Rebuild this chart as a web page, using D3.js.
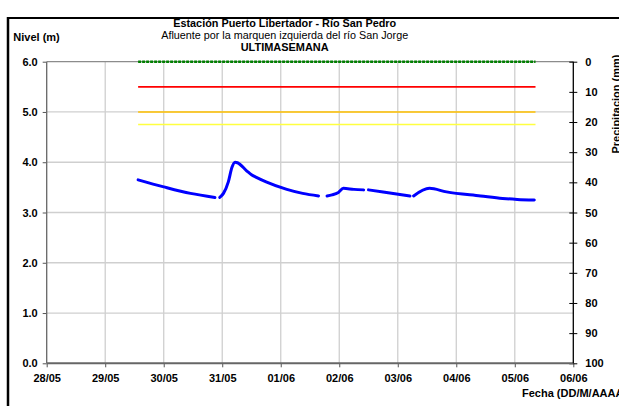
<!DOCTYPE html>
<html><head><meta charset="utf-8">
<script src="https://cdn.jsdelivr.net/npm/d3@7"></script>
<style>
html,body{margin:0;padding:0;background:#fff;}
svg{display:block;font-family:"Liberation Sans",Arial,sans-serif;}
</style></head>
<body>
<svg id="c" width="619" height="406"></svg>
<script>
// ---- data ----
const dayTicks = ["28/05","29/05","30/05","31/05","01/06","02/06","03/06","04/06","05/06","06/06"];
const levelTicks = [0,1,2,3,4,5,6];
const rainTicks = [0,10,20,30,40,50,60,70,80,90,100];
const times = ["29/05 13:30","30/05 00:00","30/05 11:00","30/05 21:00","30/05 22:00","30/05 23:00",
  "31/05 00:30","31/05 02:30","31/05 04:00","31/05 05:15","31/05 06:15","31/05 10:00","31/05 12:00",
  "31/05 14:00","31/05 18:00","01/06 02:30","01/06 09:00","01/06 15:30","01/06 17:00","01/06 19:00",
  "01/06 21:00","01/06 23:40","02/06 01:40","02/06 06:00","02/06 10:00","02/06 11:00","02/06 12:00",
  "02/06 18:00","03/06 05:00","03/06 06:00","03/06 06:30","03/06 13:00","03/06 20:00","04/06 10:00",
  "04/06 19:00","05/06 01:00","05/06 08:00"];
const levels = [3.65,3.51,3.38,3.30,null,3.30,
  3.38,3.61,3.90,4.00,3.99,3.83,3.75,
  3.70,3.61,3.46,3.38,3.33,null,3.33,
  3.35,3.40,3.48,3.46,3.45,null,3.45,
  3.41,3.33,null,3.33,3.48,3.41,3.33,
  3.28,3.26,3.25];
const thresholdNames = ["alerta0","roja","naranja","amarilla"];
const thresholdValues = [6.0,5.5,5.0,4.75];
const thresholdColors = ["#008000","#ff0000","#ffc000","#ffff40"];
const thresholdStart = "29/05 13:30";
const thresholdEnd = "05/06 08:30";

// ---- layout ----
const svg = d3.select("#c");
const L = 46.7, R = 573.3, T = 61.7, B = 363.3;
const parse = d3.timeParse("%d/%m %H:%M");
const dayDates = dayTicks.map(d => parse(d + " 00:00"));
const x = d3.scaleTime().domain([dayDates[0], dayDates[dayDates.length-1]]).range([L, R]);
const y = d3.scaleLinear().domain([0, 6]).range([B, T]);
const y2 = d3.scaleLinear().domain([0, 100]).range([T, B]);

// outer frame
svg.append("line").attr("x1",7).attr("x2",619).attr("y1",18).attr("y2",18).attr("stroke","#000").attr("stroke-width",2);
svg.append("line").attr("x1",8).attr("x2",8).attr("y1",17).attr("y2",406).attr("stroke","#000").attr("stroke-width",2.5);

// gridlines
const g = svg.append("g");
g.selectAll(".vg").data(dayDates.slice(1, -1)).join("line")
  .attr("x1", d => x(d)).attr("x2", d => x(d)).attr("y1", T).attr("y2", B)
  .attr("stroke", "#cfcfcf").attr("stroke-width", 1.3);
g.selectAll(".hg").data(levelTicks.filter(v => v > 0)).join("line")
  .attr("x1", L).attr("x2", R).attr("y1", d => y(d)).attr("y2", d => y(d))
  .attr("stroke", d => d === 6 ? "#8c8c8c" : "#cfcfcf").attr("stroke-width", d => d === 6 ? 1.3 : 1.3);

// threshold lines
thresholdValues.forEach((v, i) => {
  const ln = svg.append("line")
    .attr("x1", x(parse(thresholdStart))).attr("x2", x(parse(thresholdEnd)))
    .attr("y1", y(v)).attr("y2", y(v))
    .attr("stroke", thresholdColors[i]).attr("stroke-width", i === 0 ? 2.6 : 1.6)
    .attr("class", thresholdNames[i]);
  if (i === 0) ln.attr("stroke-dasharray", "3,1");
});

// level series
const pts = times.map((t, i) => ({t: parse(t), v: levels[i]}));
const line = d3.line().defined(d => d.v !== null).x(d => x(d.t)).y(d => y(d.v)).curve(d3.curveMonotoneX);
svg.append("path").datum(pts).attr("d", line).attr("fill", "none")
  .attr("stroke", "#0000ff").attr("stroke-width", 3).attr("stroke-linejoin", "round").attr("stroke-linecap", "round");

// axes
const fontTick = "bold 11px 'Liberation Sans', Arial, sans-serif";
const ax = svg.append("g").attr("transform", `translate(0,${B})`)
  .call(d3.axisBottom(x).tickValues(dayDates).tickFormat((d, i) => dayTicks[i]).tickSize(4).tickPadding(5));
const ay = svg.append("g").attr("transform", `translate(${L},0)`)
  .call(d3.axisLeft(y).tickValues(levelTicks).tickFormat(d3.format(".1f")).tickSize(4).tickPadding(5));
const ay2 = svg.append("g").attr("transform", `translate(${R},0)`)
  .call(d3.axisRight(y2).tickValues(rainTicks).tickSize(4).tickPadding(8));
[ax, ay, ay2].forEach(a => {
  a.selectAll("text").style("font", fontTick).attr("fill", "#000");
  a.select(".domain").remove();
});
ax.selectAll("line").attr("stroke", "#555");
ay.selectAll("line").attr("stroke", "#555");
ay2.selectAll("line").attr("stroke", "#000").attr("x1", -4);
ax.selectAll("text").attr("dy", "0.9em");
// axis lines
svg.append("line").attr("x1", L).attr("x2", L).attr("y1", T).attr("y2", B).attr("stroke", "#666").attr("stroke-width", 1.3);
svg.append("line").attr("x1", L).attr("x2", R).attr("y1", B).attr("y2", B).attr("stroke", "#666").attr("stroke-width", 2);
svg.append("line").attr("x1", R).attr("x2", R).attr("y1", T).attr("y2", B).attr("stroke", "#000").attr("stroke-width", 1.3);

// titles
svg.append("text").attr("x", 284.7).attr("y", 27).attr("text-anchor", "middle")
  .attr("textLength", 223).attr("lengthAdjust", "spacingAndGlyphs")
  .style("font", "bold 11px 'Liberation Sans', Arial, sans-serif").text("Estación Puerto Libertador - Río San Pedro");
svg.append("text").attr("x", 284.7).attr("y", 39).attr("text-anchor", "middle")
  .attr("textLength", 247).attr("lengthAdjust", "spacingAndGlyphs")
  .style("font", "11px 'Liberation Sans', Arial, sans-serif").text("Afluente por la marquen izquierda del río San Jorge");
svg.append("text").attr("x", 284.7).attr("y", 51).attr("text-anchor", "middle")
  .attr("textLength", 88).attr("lengthAdjust", "spacingAndGlyphs")
  .style("font", "bold 11px 'Liberation Sans', Arial, sans-serif").text("ULTIMASEMANA");
svg.append("text").attr("x", 13.3).attr("y", 41)
  .style("font", "bold 11px 'Liberation Sans', Arial, sans-serif").text("Nivel (m)");
svg.append("text").attr("transform", "translate(620,104) rotate(-90)").attr("text-anchor", "middle")
  .style("font", "bold 11px 'Liberation Sans', Arial, sans-serif").text("Precipitacion (mm)");
svg.append("text").attr("x", 522).attr("y", 397)
  .style("font", "bold 11px 'Liberation Sans', Arial, sans-serif").text("Fecha (DD/M/AAAA)");
</script>
</body></html>
